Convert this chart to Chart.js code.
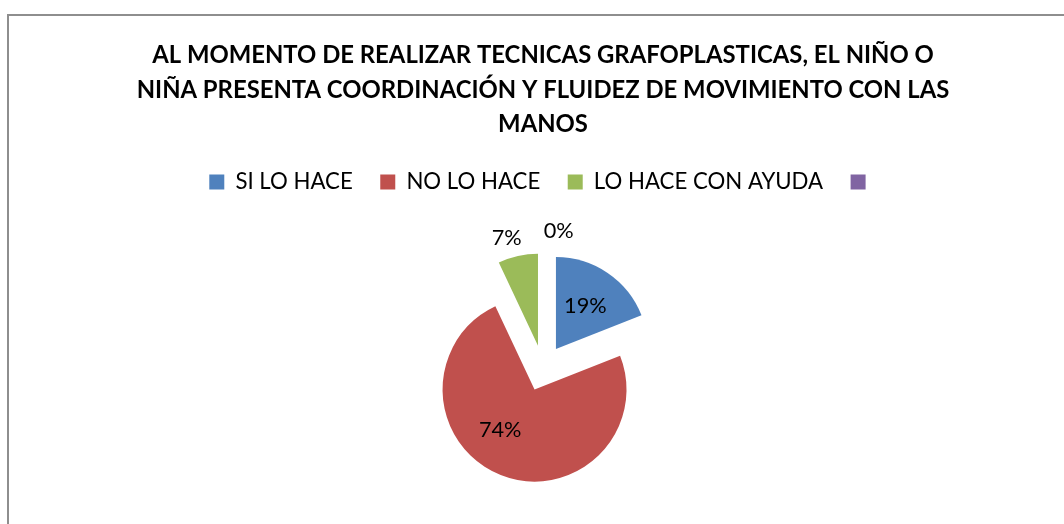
<!DOCTYPE html>
<html><head><meta charset="utf-8">
<script src="https://cdn.jsdelivr.net/npm/chart.js@4.4.0/dist/chart.umd.min.js"></script>
<style>
html,body{margin:0;padding:0;background:#fff;overflow:hidden;width:1064px;height:524px}
#wrap{position:absolute;left:0;top:0;width:1091px;height:560px}
</style></head>
<body><div id="wrap"><canvas id="c"></canvas></div>
<script>
const categories = ['SI LO HACE', 'NO LO HACE', 'LO HACE CON AYUDA', ''];
const values = [19, 74, 7, 0];
const colors = ['#4F81BD', '#C0504D', '#9BBB59', '#8064A2'];
const titleLines = [
  'AL MOMENTO DE REALIZAR TECNICAS GRAFOPLASTICAS, EL NIÑO O',
  'NIÑA PRESENTA COORDINACIÓN Y FLUIDEZ DE MOVIMIENTO CON LAS',
  'MANOS'
];
// label placement (style): radius fraction and angular shift (deg)
const labelRadius = [0.82, 0.82, 1.47, 1.50];
const labelShift = [0, 13, -3, 6.5];
const EXPLODE = 23;
const FONT = 'Lato';

function fitSize(text, weight, target) {
  const c = document.createElement('canvas').getContext('2d');
  c.font = weight + ' 100px ' + FONT;
  return 100 * target / c.measureText(text).width;
}
const titleSize = fitSize(titleLines[1], 'bold', 813);
const legendSize = fitSize('SI LO HACE', 'normal', 117.4);
const labelSize = fitSize('19%', 'normal', 42.6);

const frame = {
  id: 'frame',
  beforeDraw(chart) {
    const ctx = chart.ctx;
    ctx.save();
    ctx.fillStyle = '#fff';
    ctx.fillRect(0, 0, chart.width, chart.height);
    ctx.strokeStyle = '#8E8E8E';
    ctx.lineWidth = 2;
    ctx.strokeRect(8, 15, 3000, 3000);
    ctx.restore();
  }
};

const explode = {
  id: 'explode',
  beforeDatasetsDraw(chart) {
    chart.getDatasetMeta(0).data.forEach(a => {
      const m = (a.startAngle + a.endAngle) / 2;
      a._ox = a.x; a._oy = a.y;
      a.x = a._ox + Math.cos(m) * EXPLODE;
      a.y = a._oy + Math.sin(m) * EXPLODE;
    });
  },
  afterDatasetsDraw(chart) {
    const ctx = chart.ctx;
    const total = values.reduce((s, v) => s + v, 0);
    ctx.save();
    ctx.fillStyle = '#000';
    ctx.font = 'normal ' + labelSize + 'px ' + FONT;
    ctx.textAlign = 'center';
    ctx.textBaseline = 'middle';
    chart.getDatasetMeta(0).data.forEach((a, i) => {
      a.x = a._ox; a.y = a._oy;
      const m = (a.startAngle + a.endAngle) / 2 + labelShift[i] * Math.PI / 180;
      const r = a.outerRadius * labelRadius[i];
      ctx.fillText(Math.round(values[i] / total * 100) + '%', a.x + Math.cos(m) * r, a.y + Math.sin(m) * r);
    });
    ctx.restore();
  }
};

new Chart(document.getElementById('c'), {
  type: 'pie',
  data: {
    labels: categories,
    datasets: [{ data: values, backgroundColor: colors, borderWidth: 0 }]
  },
  options: {
    responsive: true,
    maintainAspectRatio: false,
    animation: false,
    radius: 92,
    layout: { padding: { left: 0, right: 5, top: 0, bottom: 27 } },
    plugins: {
      tooltip: { enabled: false },
      title: {
        display: true,
        text: titleLines,
        color: '#000',
        font: { family: FONT, weight: 'bold', size: titleSize, lineHeight: 34.5 / titleSize },
        padding: { top: 38.5, bottom: 1.5 }
      },
      legend: {
        display: true,
        position: 'top',
        labels: {
          color: '#000',
          font: { family: FONT, size: legendSize },
          boxWidth: 15,
          boxHeight: 15,
          padding: 27.5
        }
      }
    }
  },
  plugins: [frame, explode]
});
</script>
</body></html>
